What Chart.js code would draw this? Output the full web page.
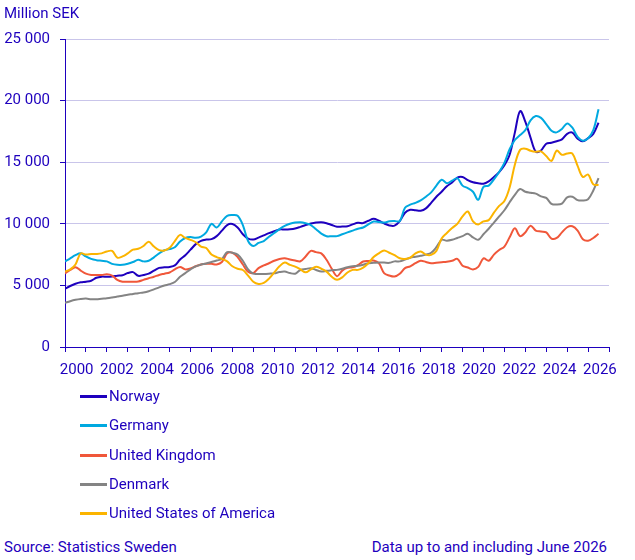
<!DOCTYPE html>
<html lang="en">
<head>
    <meta charset="UTF-8">
    <title>Million SEK</title>
    <style>
        body {
            margin: 0;
            background: #fff;
            font-family: Roboto, Arial, sans-serif;
            color: #1e00be;
        }
        .wrap {
            position: relative;
            width: 635px;
            height: 560px;
        }
        .chart-box {
            position: absolute;
            left: 0;
            top: 0;
            width: 635px;
            height: 390px;
        }
        .unit {
            position: absolute;
            left: 4px;
            top: 4px;
            font-size: 15px;
        }
        .legend {
            position: absolute;
            left: 80px;
            top: 386px;
            font-size: 15px;
        }
        .legend div {
            height: 29.3px;
            line-height: 20px;
            display: flex;
            align-items: flex-start;
        }
        .legend span.swatch {
            display: inline-block;
            width: 27px;
            height: 3px;
            margin-top: 9px;
            margin-right: 2px;
        }
        .footer {
            position: absolute;
            top: 538px;
            font-size: 15px;
        }
    </style>
    <script src="https://cdn.jsdelivr.net/npm/chart.js"></script>
</head>
<body>
<div class="wrap">
    <div class="chart-box"><canvas id="tradeChart"></canvas></div>
    <div class="unit">Million SEK</div>
    <div class="legend" id="legend"></div>
    <div class="footer" style="left:4px;">Source: Statistics Sweden</div>
    <div class="footer" style="right:28px;">Data up to and including June 2026</div>
</div>

<script>
    // quarterly readings, 2000 Q1 .. 2025 Q3 start
    var startYear = 2000;
    var stepYears = 0.25;

    var norway = [
        4730, 4950, 5130, 5250,
        5300, 5380, 5620, 5710,
        5700, 5720, 5780, 5830,
        6000, 6080, 5780, 5850,
        5950, 6200, 6420, 6470,
        6500, 6620, 7100, 7450,
        7900, 8350, 8620, 8720,
        8760, 9000, 9450, 9900,
        9980, 9700, 9150, 8800,
        8720, 8880, 9060, 9240,
        9400, 9540, 9540, 9560,
        9620, 9750, 9900, 10020,
        10100, 10130, 10050, 9900,
        9760, 9780, 9800, 9950,
        10080, 10060, 10250, 10400,
        10250, 10030, 9870, 9850,
        10220, 10900, 11140, 11100,
        11060, 11250, 11700, 12200,
        12600, 13050, 13350, 13750,
        13800, 13550, 13370, 13300,
        13250, 13450, 13800, 14200,
        14750, 15600, 17400, 19150,
        18300, 17000, 15850, 15950,
        16500, 16580, 16700, 16850,
        17300, 17400, 16900, 16700,
        16950, 17300, 18200
    ];

    var germany = [
        6940, 7200, 7450, 7600,
        7350, 7150, 7050, 7000,
        6950, 6750, 6670, 6670,
        6760, 6900, 7080, 6950,
        7000, 7280, 7600, 7850,
        7950, 8100, 8560, 8850,
        8920, 8860, 8960, 9300,
        10000, 9700, 10200, 10650,
        10710, 10650, 9900, 8600,
        8200, 8450, 8600, 8950,
        9250, 9570, 9830, 10000,
        10100, 10130, 10050, 9900,
        9550, 9200, 8990, 8990,
        9000, 9150, 9300, 9450,
        9600, 9700, 9950, 10180,
        10150, 10100, 10200, 10220,
        10220, 11300, 11550, 11700,
        11900, 12200, 12550, 13100,
        13580, 13300, 13500, 13700,
        13100, 12900, 12600, 11950,
        13000, 13100, 13600, 14200,
        14950, 16050, 16800, 17200,
        17600, 18400, 18750, 18600,
        18100, 17550, 17420, 17700,
        18150, 17800, 17050, 16750,
        16950, 17600, 19300
    ];

    var unitedKingdom = [
        5980, 6250, 6480, 6200,
        5950, 5850, 5850, 5850,
        5900, 5800, 5450, 5300,
        5300, 5300, 5320, 5450,
        5580, 5700, 5850, 5950,
        6050, 6300, 6500, 6300,
        6380, 6550, 6700, 6750,
        6750, 6700, 6900, 7600,
        7650, 7300, 6700, 6100,
        6000, 6400, 6620, 6800,
        7000, 7150, 7210, 7100,
        7020, 6960, 7350, 7800,
        7700, 7600, 7080, 6350,
        5750, 6200, 6420, 6470,
        6650, 6940, 6980, 7020,
        6800, 6000, 5800, 5720,
        5950, 6400, 6550, 6800,
        7000, 6900, 6800, 6840,
        6880, 6920, 7000, 7150,
        6600, 6450, 6300, 6500,
        7190, 7000, 7500, 7870,
        8150, 8900, 9640, 9000,
        9300, 9850, 9450, 9370,
        9300, 8800, 8850, 9300,
        9720, 9800, 9450, 8750,
        8630, 8850, 9200
    ];

    var denmark = [
        3580, 3720, 3830, 3900,
        3930, 3880, 3870, 3920,
        3960, 4020, 4090, 4160,
        4240, 4300, 4370, 4430,
        4530, 4680, 4840, 4990,
        5100, 5280, 5700, 6000,
        6300, 6550, 6690, 6780,
        6900, 7020, 7150, 7700,
        7650, 7500, 7000, 6300,
        5950, 5930, 5930, 5950,
        5980, 6080, 6120, 6000,
        5950, 6250, 6330, 6400,
        6250, 6130, 6180, 6230,
        6260, 6350, 6480, 6550,
        6590, 6680, 6800, 6830,
        6860, 6850, 6830, 6950,
        6950, 7100, 7250, 7320,
        7400, 7500, 7650, 8100,
        8700, 8630, 8700, 8850,
        9000, 9200, 8900, 8700,
        9150, 9600, 10100, 10600,
        11100, 11750, 12350, 12820,
        12600, 12520, 12450, 12230,
        12100, 11620, 11560, 11640,
        12150, 12200, 11920, 11890,
        12000, 12700, 13700
    ];

    var unitedStates = [
        6120, 6300, 6700, 7600,
        7500, 7540, 7550, 7600,
        7750, 7800, 7250, 7350,
        7600, 7900, 7970, 8200,
        8550, 8150, 7860, 7840,
        8050, 8600, 9100, 8850,
        8700, 8500, 8150, 8030,
        7500, 7300, 7150, 6950,
        6550, 6350, 6250, 5800,
        5300, 5120, 5200, 5550,
        6050, 6550, 6850, 6670,
        6520, 6300, 6060, 6300,
        6520, 6350, 6120, 5700,
        5450, 5650, 6050, 6260,
        6260, 6450, 6800, 7300,
        7600, 7840, 7650, 7450,
        7200, 7150, 7250, 7600,
        7750, 7500, 7480, 7800,
        8800, 9250, 9650, 10000,
        10600, 11000, 10200, 9950,
        10200, 10300, 10900, 11450,
        11850, 12950, 14800, 16000,
        16100, 15930, 15850, 15880,
        15500, 15100, 15940, 15600,
        15700, 15700, 14700, 13800,
        14000, 13200, 13150
    ];

    var countries = ['Norway', 'Germany', 'United Kingdom', 'Denmark', 'United States of America'];
    var colors = ['#1e00be', '#00a9e0', '#f0573a', '#848484', '#fbb400'];
    var yTicks = [0, 5000, 10000, 15000, 20000, 25000];
    var yearLabels = [2000, 2002, 2004, 2006, 2008, 2010, 2012, 2014, 2016, 2018, 2020, 2022, 2024, 2026];

    var textColor = '#1e00be';
    var gridColor = '#c9c5ea';

    function toPoints(values) {
        return values.map(function (v, i) {
            return { x: startYear + i * stepYears, y: v };
        });
    }

    function formatThousands(v) {
        return String(v).replace(/\B(?=(\d{3})+(?!\d))/g, ' ');
    }

    var seriesList = [norway, germany, unitedKingdom, denmark, unitedStates];
    var datasets = seriesList.map(function (values, i) {
        return {
            label: countries[i],
            data: toPoints(values),
            borderColor: colors[i],
            borderWidth: 2,
            pointRadius: 0,
            tension: 0.35,
            fill: false
        };
    });
    // draw order as in the picture: Norway on top
    datasets.reverse();

    Chart.defaults.font.family = 'Roboto, Arial, sans-serif';
    Chart.defaults.font.size = 15;
    Chart.defaults.color = textColor;

    var ctx = document.getElementById('tradeChart').getContext('2d');
    new Chart(ctx, {
        type: 'line',
        data: { datasets: datasets },
        options: {
            responsive: true,
            maintainAspectRatio: false,
            animation: false,
            layout: { padding: { top: 39, right: 26, left: 0, bottom: 0 } },
            plugins: {
                legend: { display: false },
                tooltip: { enabled: false }
            },
            scales: {
                // yearly tick marks
                x: {
                    type: 'linear',
                    min: 2000,
                    max: 2026,
                    weight: 0,
                    afterFit: function (scale) { scale.height = 5; },
                    afterBuildTicks: function (scale) {
                        var t = [];
                        for (var y = 2000; y <= 2026; y++) t.push({ value: y });
                        scale.ticks = t;
                    },
                    ticks: {
                        autoSkip: false,
                        maxRotation: 0,
                        callback: function () { return ''; }
                    },
                    grid: {
                        drawOnChartArea: false,
                        tickLength: 5,
                        tickColor: textColor
                    },
                    border: { color: textColor, width: 1 }
                },
                // year labels sit on their own, slightly tighter spacing
                x2: {
                    type: 'linear',
                    position: 'bottom',
                    min: 1999.42,
                    max: 2026.45,
                    weight: 1,
                    afterFit: function (scale) { scale.height = 38; },
                    afterBuildTicks: function (scale) {
                        scale.ticks = yearLabels.map(function (v) { return { value: v }; });
                    },
                    ticks: {
                        autoSkip: false,
                        maxRotation: 0,
                        padding: 1,
                        callback: function (v) { return String(v); }
                    },
                    grid: { display: false },
                    border: { display: false }
                },
                y: {
                    min: 0,
                    max: 25000,
                    afterFit: function (scale) { scale.width = 65; },
                    afterBuildTicks: function (scale) {
                        scale.ticks = yTicks.map(function (v) { return { value: v }; });
                    },
                    ticks: {
                        padding: 10,
                        callback: function (v) { return formatThousands(v); }
                    },
                    grid: {
                        color: gridColor,
                        tickLength: 5,
                        tickColor: textColor
                    },
                    border: { color: textColor, width: 1 }
                }
            }
        }
    });

    // legend below the chart
    var legend = document.getElementById('legend');
    countries.forEach(function (name, i) {
        var row = document.createElement('div');
        var sw = document.createElement('span');
        sw.className = 'swatch';
        sw.style.background = colors[i];
        row.appendChild(sw);
        row.appendChild(document.createTextNode(name));
        legend.appendChild(row);
    });
</script>
</body>
</html>
